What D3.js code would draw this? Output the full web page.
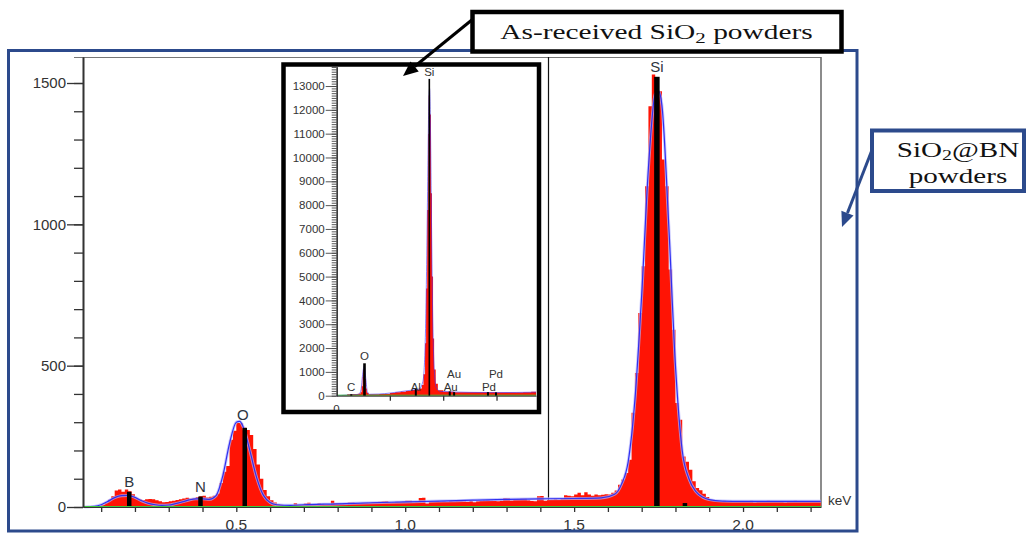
<!DOCTYPE html>
<html>
<head>
<meta charset="utf-8">
<script src="https://cdn.jsdelivr.net/npm/d3@7"></script>
<style>
  html, body { margin: 0; padding: 0; background: #fff; }
  svg { display: block; }
</style>
</head>
<body>
<svg id="chart" width="1036" height="534"></svg>
<script>
// ---------- SiO2@BN powders: EDS spectrum, counts per 0.01 keV channel ----------
const channelStart = 0.05;   // keV at the left edge of the first channel
const channelWidth = 0.01;   // keV per channel
const counts = [
  0, 0, 0, 1, 3,                                        // 0.05 - 0.09
  8, 14, 26, 38, 58, 62, 54, 62, 56, 45,                // 0.10 - 0.19
  30, 27, 25, 27, 28, 27, 24, 20, 17, 18,               // 0.20
  20, 22, 25, 27, 30, 33, 30, 31, 35, 38,               // 0.30
  40, 34, 36, 40, 48, 85, 125, 145, 238, 270,           // 0.40
  297, 296, 280, 272, 255, 205, 150, 100, 60, 38,       // 0.50
  24, 16, 10, 8, 4, 3, 6, 13, 8, 7,                     // 0.60
  12, 15, 8, 9, 13, 10, 8, 9, 22, 14,                   // 0.70
  13, 11, 10, 16, 16, 12, 13, 15, 15, 14,               // 0.80
  17, 18, 19, 20, 21, 15, 16, 19, 18, 19,               // 0.90
  22, 22, 17, 18, 32, 33, 12, 19, 19, 20,               // 1.00
  19, 20, 19, 21, 20, 24, 25, 20, 19, 21,               // 1.10
  17, 20, 21, 23, 24, 22, 21, 20, 22, 32,               // 1.20
  31, 23, 27, 28, 29, 29, 24, 21, 20, 38,               // 1.30
  39, 22, 25, 26, 27, 26, 28, 42, 40, 38,               // 1.40
  44, 50, 42, 52, 44, 40, 44, 42, 43, 45,               // 1.50
  44, 50, 58, 79, 97, 120, 167, 333, 474, 686,          // 1.60
  852, 1135, 1418, 1530, 1520, 1471, 1229, 1135, 840, 627, // 1.70
  368, 309, 179, 160, 132, 91, 67, 59, 47, 35,          // 1.80
  26, 22, 21, 20, 22, 19, 21, 20, 18, 21,               // 1.90
  20, 19, 22, 17, 21, 20, 19, 22, 20, 18,               // 2.00
  21, 20, 17, 21, 19, 22, 20, 21, 18, 20,               // 2.10
  21, 20, 19                                            // 2.20 - 2.22
];

// fitted envelope
const fitKeV = [0.05,0.08,0.10,0.12,0.14,0.16,0.18,0.20,0.22,0.24,
                0.26,0.28,0.30,0.32,0.34,0.36,0.38,0.40,0.42,0.44,
                0.46,0.48,0.50,0.51,0.52,0.54,0.56,0.58,0.60,0.62,
                0.66,0.70,0.80,0.90,1.00,1.10,1.20,1.30,1.40,1.50,
                1.58,1.62,1.64,1.66,1.68,1.70,1.72,1.74,1.75,1.76,
                1.78,1.80,1.82,1.84,1.86,1.88,1.90,1.94,2.00,2.10,2.23];
const fitCounts = [0,2,8,20,33,40,41,34,22,13,
                   8,6,7,12,18,25,29,29,27,40,
                   110,225,300,303,285,200,105,42,16,8,
                   6,8,11,15,18,21,24,27,29,30,
                   32,45,80,160,380,750,1200,1460,1471,1420,
                   1000,500,200,100,55,35,26,21,20,20,20];

// identified element lines
const lineLabels  = ["B", "N", "O", "Si", ""];
const lineKeV     = [0.183, 0.394, 0.525, 1.745, 1.828];
const lineHeights = [54, 37, 280, 1522, 14];

// axis ticks
const yMajorTicks = [0, 500, 1000, 1500];
const xLabelTicks = [0.5, 1.0, 1.5, 2.0];

// ---------- As-received SiO2 powders (inset spectrum) ----------
const insetKeV = [0.00,0.10,0.20,0.30,0.40,0.45,0.47,0.49,0.50,0.52,
                  0.53,0.55,0.57,0.60,0.80,1.00,1.10,1.20,1.30,1.40,
                  1.47,1.50,1.55,1.60,1.63,1.66,1.68,1.70,1.72,1.73,
                  1.75,1.77,1.79,1.81,1.83,1.86,1.90,2.00,2.20,2.50,
                  3.00,3.50,3.65];
const insetCounts = [0,20,60,70,80,150,400,800,1100,1150,
                     700,300,120,60,70,110,150,170,200,240,
                     290,260,300,450,900,2200,4500,7800,11000,12600,
                     11800,8500,5000,2400,1100,500,230,170,150,140,
                     130,140,170];
const insetFitKeV = [0.00,0.30,0.42,0.46,0.49,0.52,0.55,0.58,0.62,0.80,
                     1.00,1.20,1.40,1.55,1.62,1.66,1.69,1.71,1.73,1.745,
                     1.76,1.78,1.80,1.83,1.87,1.95,2.50,3.00,3.74];
const insetFitCounts = [0,40,60,250,900,1250,700,150,60,70,
                        110,170,230,280,600,2000,5500,9000,12200,12900,
                        11500,7500,3800,1200,350,180,140,130,150];
const insetLineLabels  = ["C", "O", "Al", "Si", "Au", "Au", "Pd", "Pd"];
const insetLineKeV     = [0.277, 0.525, 1.487, 1.740, 2.123, 2.205, 2.839, 2.990];
const insetLineHeights = [60, 1360, 300, 13300, 180, 150, 150, 140];
const insetYMajor = d3.range(0, 13001, 1000);

// ---------- drawing ----------
const svg = d3.select("#chart");
const SANS = "'Liberation Sans', Arial, sans-serif";
const SERIF = "'Liberation Serif', 'Times New Roman', serif";
const RED = "#ff1405";
const NAVY = "#2c4a8c";
const intFmt = d3.format("d");

const x = d3.scaleLinear().domain([0.0462, 2.2308]).range([83, 821]);
const y = d3.scaleLinear().domain([0, 1592]).range([507, 57]);

const main = svg.append("g");

// plot frame: top edge, right edge, cursor line
main.append("line").attr("x1", 74).attr("x2", 821).attr("y1", 57.5).attr("y2", 57.5)
  .attr("stroke", "#777").attr("stroke-width", 1.2);
main.append("line").attr("x1", 821).attr("x2", 821).attr("y1", 57).attr("y2", 507)
  .attr("stroke", "#666").attr("stroke-width", 1.5);
main.append("line").attr("x1", 548.5).attr("x2", 548.5).attr("y1", 57).attr("y2", 507)
  .attr("stroke", "#111").attr("stroke-width", 1.2);

// measured spectrum as a step histogram
const spec = counts.map((v, i) => ({ k: channelStart + i * channelWidth, v }));
spec.push({ k: channelStart + counts.length * channelWidth, v: counts[counts.length - 1] });
main.append("path")
  .datum(spec)
  .attr("fill", RED)
  .attr("d", d3.area().curve(d3.curveStepAfter)
    .x(d => x(d.k)).y0(y(0)).y1(d => y(d.v)));

// fitted envelope
const fitData = fitKeV.map((k, i) => ({ k, v: fitCounts[i] }));
const fitLine = d3.line().curve(d3.curveMonotoneX).x(d => x(d.k)).y(d => y(d.v));
main.append("path").datum(fitData).attr("fill", "none")
  .attr("stroke", "#b4b4ff").attr("stroke-width", 3).attr("opacity", 0.7).attr("d", fitLine);
main.append("path").datum(fitData).attr("fill", "none")
  .attr("stroke", "#3030f0").attr("stroke-width", 1.2).attr("d", fitLine);

// element markers
lineKeV.forEach((k, i) => {
  const w = i === 3 ? 5.5 : 4.5;
  main.append("rect")
    .attr("x", x(k) - w / 2).attr("width", w)
    .attr("y", y(lineHeights[i])).attr("height", y(0) - y(lineHeights[i]))
    .attr("fill", "#000");
  if (lineLabels[i]) {
    main.append("text")
      .attr("x", x(k) - (i === 2 ? 2 : 0)).attr("y", y(lineHeights[i]) - (i === 2 ? 8 : 5))
      .attr("text-anchor", "middle")
      .attr("font-family", SANS).attr("font-size", 15).attr("fill", "#2e3440")
      .text(lineLabels[i]);
  }
});

// green baseline
main.append("line").attr("x1", 83).attr("x2", 821).attr("y1", 506.5).attr("y2", 506.5)
  .attr("stroke", "#3cc83c").attr("stroke-width", 1);

// y axis: major and minor ticks
const yMinor = main.append("g").attr("transform", "translate(83,0)")
  .call(d3.axisLeft(y).tickValues(d3.range(0, 1600, 100)).tickSize(9).tickSizeOuter(0).tickFormat(""));
const yMajor = main.append("g").attr("transform", "translate(83,0)")
  .call(d3.axisLeft(y).tickValues(yMajorTicks).tickSize(16).tickSizeOuter(0).tickPadding(1).tickFormat(intFmt));
[yMinor, yMajor].forEach(g => {
  g.select(".domain").attr("stroke", "#333").attr("stroke-width", 1.6);
  g.selectAll(".tick line").attr("stroke", "#333").attr("stroke-width", 1.3);
});
yMajor.selectAll(".tick text").attr("font-family", SANS).attr("font-size", 15).attr("fill", "#333");

// x axis
const xAxis = main.append("g").attr("transform", "translate(0,507)")
  .call(d3.axisBottom(x).tickValues(d3.range(0.1, 2.21, 0.1)).tickSize(5).tickSizeOuter(0).tickFormat(""));
xAxis.select(".domain").attr("stroke", "#333").attr("stroke-width", 1);
xAxis.selectAll(".tick line").attr("stroke", "#333").attr("stroke-width", 1.3);
main.selectAll(".xlab").data(xLabelTicks).enter().append("text")
  .attr("class", "xlab")
  .attr("x", d => x(d)).attr("y", 530)
  .attr("text-anchor", "middle")
  .attr("font-family", SANS).attr("font-size", 15.5).attr("fill", "#333")
  .text(d => d.toFixed(1));
main.append("text").attr("x", 828).attr("y", 505)
  .attr("font-family", SANS).attr("font-size", 13.5).attr("fill", "#333").text("keV");

// outer frame
svg.append("rect").attr("x", 8.5).attr("y", 50.5).attr("width", 848.5).attr("height", 480.5)
  .attr("fill", "none").attr("stroke", NAVY).attr("stroke-width", 3);

// ---------- inset ----------
const ix = d3.scaleLinear().domain([0, 3.74]).range([336.5, 536]);
const iy = d3.scaleLinear().domain([0, 13811]).range([395.7, 66.7]);
const inset = svg.append("g");
inset.append("rect").attr("x", 283.5).attr("y", 64.5).attr("width", 255.5).attr("height", 347.5)
  .attr("fill", "#fff");

const iSpec = insetKeV.map((k, i) => ({ k, v: insetCounts[i] }));
iSpec.push({ k: 3.74, v: insetCounts[insetCounts.length - 1] });
inset.append("path").datum(iSpec).attr("fill", RED)
  .attr("d", d3.area().curve(d3.curveStepAfter).x(d => ix(d.k)).y0(iy(0)).y1(d => iy(d.v)));

const iFit = insetFitKeV.map((k, i) => ({ k, v: insetFitCounts[i] }));
inset.append("path").datum(iFit).attr("fill", "none")
  .attr("stroke", "#4a30f0").attr("stroke-width", 0.9).attr("opacity", 0.7)
  .attr("d", d3.line().curve(d3.curveMonotoneX).x(d => ix(d.k)).y(d => iy(d.v)));

inset.append("line").attr("x1", 337).attr("x2", 536).attr("y1", 395.2).attr("y2", 395.2)
  .attr("stroke", "#3cc83c").attr("stroke-width", 1);

const rowOf = ["low", "peak", "low", "peak", "low", "high", "low", "high"];
insetLineKeV.forEach((k, i) => {
  const w = i === 1 ? 2.6 : (i === 3 ? 1.6 : 2);
  inset.append("rect")
    .attr("x", ix(k) - w / 2).attr("width", w)
    .attr("y", iy(insetLineHeights[i])).attr("height", iy(0) - iy(insetLineHeights[i]))
    .attr("fill", "#000");
  const row = rowOf[i];
  const by = row === "peak" ? iy(insetLineHeights[i]) - 3 : (row === "low" ? iy(0) - 5 : iy(0) - 18);
  inset.append("text")
    .attr("x", ix(k) + (row === "low" && i > 3 ? 1 : 0)).attr("y", by)
    .attr("text-anchor", "middle")
    .attr("font-family", SANS).attr("font-size", 11.5).attr("fill", "#333")
    .text(insetLineLabels[i]);
});

const iyMinor = inset.append("g").attr("transform", "translate(336.7,0)")
  .call(d3.axisLeft(iy).tickValues(d3.range(0, 13801, 100)).tickSize(5).tickSizeOuter(0).tickFormat(""));
const iyMajor = inset.append("g").attr("transform", "translate(336.7,0)")
  .call(d3.axisLeft(iy).tickValues(insetYMajor).tickSize(11).tickSizeOuter(0).tickPadding(1).tickFormat(intFmt));
[iyMinor, iyMajor].forEach(g => {
  g.select(".domain").attr("stroke", "#333").attr("stroke-width", 1.2);
  g.selectAll(".tick line").attr("stroke", "#444").attr("stroke-width", 0.9);
});
iyMajor.selectAll(".tick text").attr("font-family", SANS).attr("font-size", 11.5).attr("fill", "#333");

const ixAxis = inset.append("g").attr("transform", "translate(0,395.7)")
  .call(d3.axisBottom(ix).tickValues([1, 2, 3]).tickSize(5).tickSizeOuter(0).tickFormat(""));
ixAxis.select(".domain").attr("stroke", "#333").attr("stroke-width", 1);
ixAxis.selectAll(".tick line").attr("stroke", "#333").attr("stroke-width", 1.3);
inset.append("text").attr("x", ix(0)).attr("y", 413).attr("text-anchor", "middle")
  .attr("font-family", SANS).attr("font-size", 11.5).attr("fill", "#333").text("0");

inset.append("rect").attr("x", 283.5).attr("y", 64.5).attr("width", 255.5).attr("height", 347.5)
  .attr("fill", "none").attr("stroke", "#000").attr("stroke-width", 4.5);

// ---------- callouts ----------
function arrow(x1, y1, x2, y2, color, width, headLen, headHalf) {
  const a = Math.atan2(y2 - y1, x2 - x1);
  const bx = x2 - headLen * Math.cos(a), by = y2 - headLen * Math.sin(a);
  svg.append("line").attr("x1", x1).attr("y1", y1).attr("x2", bx).attr("y2", by)
    .attr("stroke", color).attr("stroke-width", width);
  const px = -Math.sin(a) * headHalf, py = Math.cos(a) * headHalf;
  svg.append("polygon")
    .attr("points", [[x2, y2], [bx + px, by + py], [bx - px, by - py]].map(p => p.join(",")).join(" "))
    .attr("fill", color);
}

arrow(473, 19, 403, 76, "#000", 3, 15, 6.5);
svg.append("rect").attr("x", 472.5).attr("y", 12).attr("width", 369).attr("height", 39.5)
  .attr("fill", "#fff").attr("stroke", "#000").attr("stroke-width", 4.5);
const t1 = svg.append("g").attr("transform", "translate(656.5,39) scale(1.4,1)")
  .append("text").attr("text-anchor", "middle")
  .attr("font-family", SERIF).attr("font-size", 21).attr("fill", "#111");
t1.append("tspan").text("As-received SiO");
t1.append("tspan").attr("font-size", 15).attr("dy", 4).text("2");
t1.append("tspan").attr("dy", -4).text(" powders");

arrow(872, 150, 842, 227, NAVY, 3, 15, 6.5);
svg.append("rect").attr("x", 872).attr("y", 130.5).attr("width", 152).attr("height", 60.5)
  .attr("fill", "#fff").attr("stroke", NAVY).attr("stroke-width", 4);
const t2 = svg.append("g").attr("transform", "translate(958,157) scale(1.42,1)")
  .append("text").attr("text-anchor", "middle")
  .attr("font-family", SERIF).attr("font-size", 20.5).attr("fill", "#111");
t2.append("tspan").text("SiO");
t2.append("tspan").attr("font-size", 14).attr("dy", 3).text("2");
t2.append("tspan").attr("dy", -3).text("@BN");
svg.append("g").attr("transform", "translate(958,182.5) scale(1.42,1)")
  .append("text").attr("text-anchor", "middle")
  .attr("font-family", SERIF).attr("font-size", 20.5).attr("fill", "#111")
  .text("powders");
</script>
</body>
</html>
